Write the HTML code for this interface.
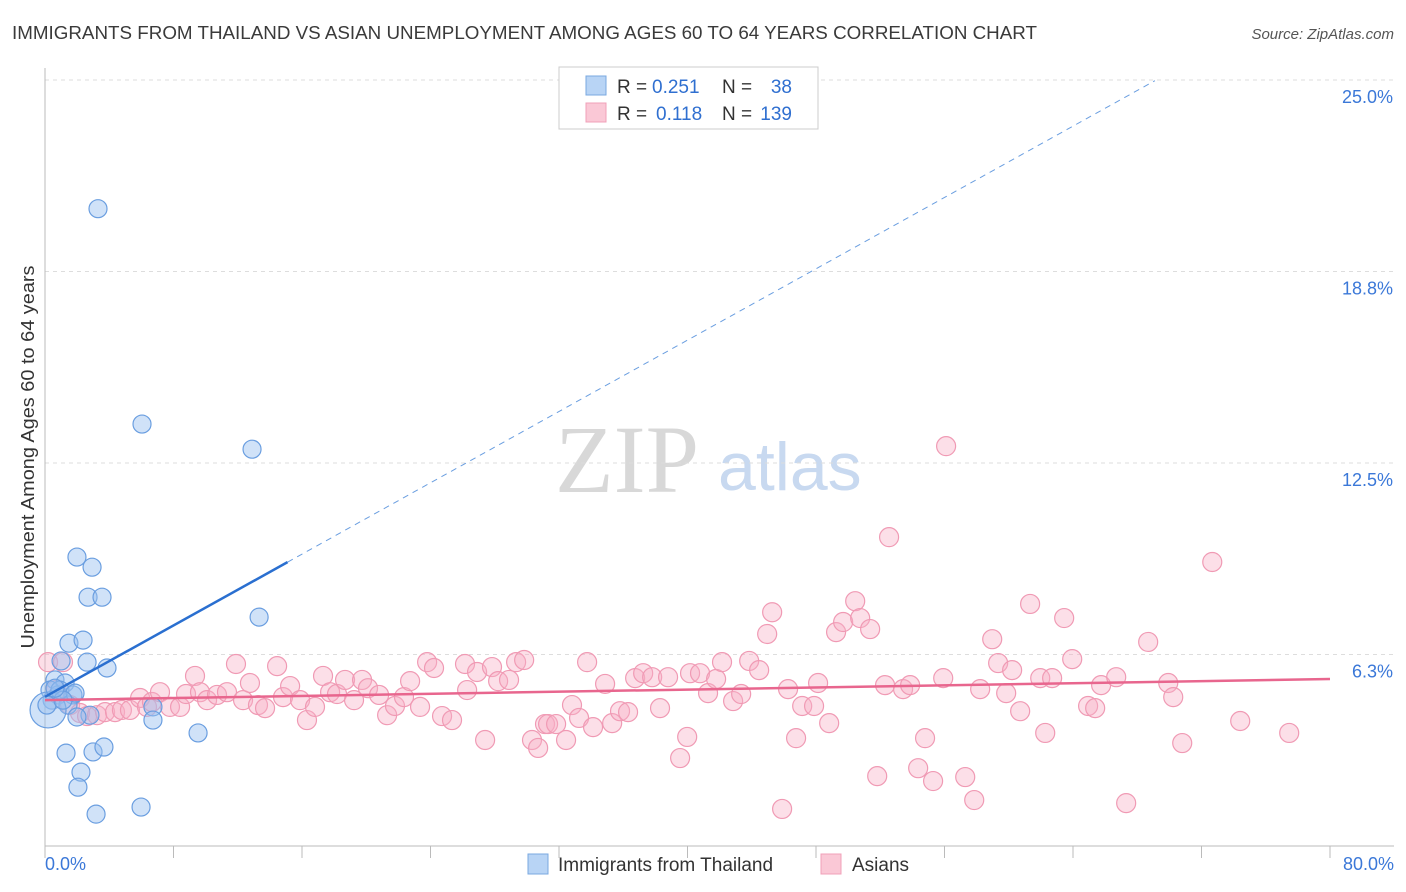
<!DOCTYPE html>
<html><head><meta charset="utf-8"><style>
body{margin:0;background:#fff;font-family:"Liberation Sans",sans-serif;}
svg{display:block}
</style></head><body>
<svg width="1406" height="892" xmlns="http://www.w3.org/2000/svg" id="chart">
<text x="12" y="39" font-size="18" fill="#3a3a3a" textLength="1025" lengthAdjust="spacingAndGlyphs">IMMIGRANTS FROM THAILAND VS ASIAN UNEMPLOYMENT AMONG AGES 60 TO 64 YEARS CORRELATION CHART</text>
<text x="1394" y="39" font-size="15" fill="#555" font-style="italic" text-anchor="end">Source: ZipAtlas.com</text>
<text x="555" y="492" font-size="96" font-family="Liberation Serif,serif" fill="#d8d8d8">ZIP</text>
<text x="718" y="490" font-size="68" fill="#c8d9f0">atlas</text>
<text transform="translate(34,457) rotate(-90)" font-size="18" fill="#333" text-anchor="middle" textLength="383" lengthAdjust="spacingAndGlyphs">Unemployment Among Ages 60 to 64 years</text>
<g id="grid"></g><g id="axes"></g><g id="pink"></g><g id="blue"></g><g id="lines"></g>
<g>
<rect x="559" y="67" width="259" height="62" fill="#fff" stroke="#ccc"/>
<rect x="586" y="76" width="20" height="19" fill="#b8d4f5" stroke="#7aa8e0"/>
<rect x="586" y="103" width="20" height="19" fill="#fac8d6" stroke="#f0a0b8"/>
<text x="617" y="93" font-size="19" fill="#333">R =</text>
<text x="652" y="93" font-size="19" fill="#2f6fd0">0.251</text>
<text x="722" y="93" font-size="19" fill="#333">N =</text>
<text x="792" y="93" font-size="19" fill="#2f6fd0" text-anchor="end">38</text>
<text x="617" y="120" font-size="19" fill="#333">R =</text>
<text x="656" y="120" font-size="19" fill="#2f6fd0">0.118</text>
<text x="722" y="120" font-size="19" fill="#333">N =</text>
<text x="792" y="120" font-size="19" fill="#2f6fd0" text-anchor="end">139</text>
</g>
<g>
<rect x="528" y="854" width="20" height="20" fill="#b8d4f5" stroke="#7aa8e0"/>
<text x="558" y="871" font-size="19" fill="#333">Immigrants from Thailand</text>
<rect x="821" y="854" width="20" height="20" fill="#fac8d6" stroke="#f0a0b8"/>
<text x="852" y="871" font-size="19" fill="#333">Asians</text>
</g>
</svg>
<script>
const yTicks=[6.25,12.5,18.75,25];
const yTickLabels=["6.3%","12.5%","18.8%","25.0%"];
const xTickLabels=["0.0%","80.0%"];
const blueX=[3.3,6.04,12.89,1.99,2.93,2.68,3.55,13.33,1.49,2.37,1.0,2.62,3.86,0.62,1.25,0.31,0.81,1.74,0.44,1.43,2.8,1.99,6.72,6.72,9.53,1.31,2.99,3.67,2.24,2.05,3.18,5.98,0.19,0.93,1.87,0.12,1.12,0.62];
const blueY=[20.8,13.77,12.95,9.43,9.1,8.12,8.12,7.47,6.62,6.72,6.04,6.0,5.81,5.42,5.32,5.09,4.93,4.93,4.76,4.6,4.27,4.21,4.54,4.11,3.69,3.03,3.07,3.23,2.41,1.92,1.04,1.27,4.44,5.09,4.99,4.6,4.76,5.15];
const pinkX=[0.19,1.12,0.68,1.56,2.18,2.62,3.24,3.74,4.36,4.79,5.29,5.92,6.35,6.66,7.16,7.78,8.41,8.78,9.34,9.65,10.09,10.71,11.33,11.89,12.33,12.76,13.26,13.7,14.45,14.82,15.26,15.88,16.31,16.81,17.31,17.75,18.18,18.68,19.24,19.74,20.11,20.8,21.3,21.79,22.35,22.73,23.35,23.79,24.22,24.72,25.34,26.15,26.28,26.9,27.4,27.83,28.21,28.89,29.33,29.83,30.32,30.7,31.13,31.32,31.82,32.44,32.81,33.25,33.75,34.12,34.87,35.31,35.8,36.3,36.74,37.24,37.8,38.29,38.79,39.54,39.98,40.16,40.78,41.28,41.78,42.15,42.84,43.34,43.84,44.46,44.96,45.27,45.89,46.26,46.76,47.14,47.88,48.13,48.82,49.25,49.69,50.44,50.75,51.37,51.81,52.3,52.55,53.42,53.86,54.36,54.79,55.29,55.92,56.1,57.29,57.85,58.22,58.97,59.34,59.84,60.21,60.71,61.33,61.96,62.27,62.7,63.45,63.95,64.94,65.38,65.75,66.69,67.31,68.68,69.93,70.24,70.8,72.67,74.41,77.46];
const pinkY=[6.0,6.0,5.09,4.6,4.34,4.24,4.27,4.37,4.37,4.44,4.44,4.83,4.54,4.7,5.02,4.54,4.54,4.96,5.55,5.02,4.76,4.93,5.02,5.94,4.76,5.32,4.6,4.5,5.87,4.86,5.22,4.76,4.11,4.54,5.55,5.02,4.96,5.42,4.76,5.42,5.15,4.93,4.27,4.57,4.86,5.38,4.54,6.0,5.81,4.24,4.11,5.94,5.09,5.68,3.46,5.84,5.38,5.42,6.0,6.07,3.46,3.2,3.98,3.98,3.98,3.46,4.6,4.18,6.0,3.88,5.29,4.01,4.4,4.37,5.48,5.64,5.51,4.5,5.51,2.87,3.56,5.64,5.64,4.99,5.45,6.0,4.73,4.96,6.04,5.74,6.92,7.63,1.21,5.12,3.52,4.57,4.57,5.32,4.01,6.98,7.31,7.99,7.44,7.08,2.28,5.25,10.08,5.12,5.25,2.54,3.52,2.12,5.48,13.05,2.25,1.5,5.12,6.75,5.97,4.99,5.74,4.4,7.9,5.48,3.69,5.48,7.44,6.1,4.57,4.5,5.25,5.51,1.4,6.66,5.32,4.86,3.36,9.27,4.08,3.69];
const blueLine=[0,4.87,80,28.15];
const pinkLine=[0,4.76,80,5.45];
const NS="http://www.w3.org/2000/svg";
const X0=45,X1=1330,Y0=846,Y1=80;
const sx=v=>X0+v/80*(X1-X0);
const sy=v=>Y0-v/25*(Y0-Y1);
function mk(tag,attrs,parent){const e=document.createElementNS(NS,tag);for(const k in attrs)e.setAttribute(k,attrs[k]);document.getElementById(parent).appendChild(e);return e;}
yTicks.forEach((t,i)=>{
 const l=mk('line',{x1:X0,x2:1394,y1:sy(t),y2:sy(t),stroke:'#ddd','stroke-dasharray':'4,4'},'grid');
 
 
 const tx=mk('text',{x:1393,y:sy(t)+23,'font-size':18,fill:'#3b78d8','text-anchor':'end'},'grid');
 tx.textContent=yTickLabels[i];
 
 
});
const ya=mk('line',{x1:X0,x2:X0,y1:68,y2:Y0,stroke:'#bbb'},'axes');


const xa=mk('line',{x1:X0,x2:1394,y1:Y0,y2:Y0,stroke:'#bbb'},'axes');


for(let i=0;i<=10;i++){
 const t=mk('line',{x1:sx(i*8),x2:sx(i*8),y1:Y0,y2:Y0+12,stroke:'#bbb'},'axes');
 
 
}
[[0,xTickLabels[0],'start',45],[80,xTickLabels[1],'end',1394]].forEach(a=>{
 const tx=mk('text',{x:a[3],y:870,'font-size':18,fill:'#3b78d8','text-anchor':a[2]},'axes');
 tx.textContent=a[1];
 
 
});
pinkX.forEach((x,i)=>{
 const c=mk('circle',{cx:sx(x),cy:sy(pinkY[i]),r:9.5,fill:'rgba(248,176,198,0.4)',stroke:'#f09ab4','stroke-width':1.2},'pink');
 
 
});
blueX.forEach((x,i)=>{
 const c=mk('circle',{cx:sx(x),cy:sy(blueY[i]),r:i==32?18:9,fill:'rgba(150,190,240,0.45)',stroke:'#6a9ee0','stroke-width':1.2},'blue');
 
 
});
const bx=v=>blueLine[1]+(v-blueLine[0])*(blueLine[3]-blueLine[1])/(blueLine[2]-blueLine[0]);
const b1=mk('line',{x1:sx(0),y1:sy(bx(0)),x2:sx(15.1),y2:sy(bx(15.1)),stroke:'#2a6fd0','stroke-width':2.5},'lines');


const b2=mk('line',{x1:sx(15.1),y1:sy(bx(15.1)),x2:sx(69.1),y2:sy(bx(69.1)),stroke:'#6a9ee0','stroke-width':1,'stroke-dasharray':'6,5'},'lines');


const p=mk('line',{x1:sx(pinkLine[0]),y1:sy(pinkLine[1]),x2:sx(pinkLine[2]),y2:sy(pinkLine[3]),stroke:'#e8668e','stroke-width':2.5},'lines');


</script>
</body></html>
